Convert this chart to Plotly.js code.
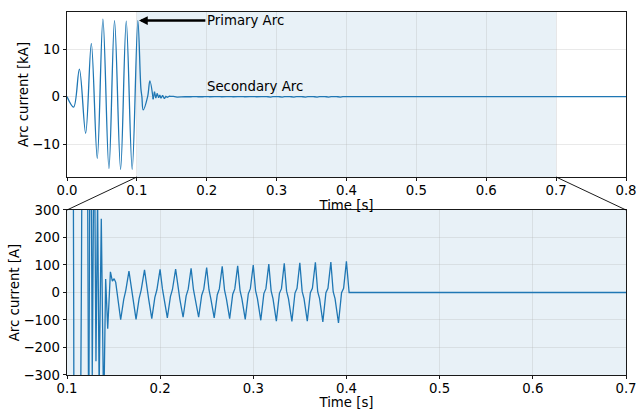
<!DOCTYPE html>
<html>
<head>
<meta charset="utf-8">
<script src="https://cdn.plot.ly/plotly-3.0.1.min.js"></script>
<style>html,body{margin:0;padding:0;background:#fff;}#chart{width:636px;height:410px;}</style>
</head>
<body>
<div id="chart"></div>
<script>
// ---- Data ----
// Primary arc and early transient (time in s, current in kA)
const primaryTime = [0, 0.0095, 0.0177, 0.0267, 0.0348, 0.0433, 0.0514, 0.0600, 0.0680, 0.0767, 0.0848, 0.0933, 0.1014, 0.1057, 0.1072, 0.1090, 0.1154, 0.1186, 0.1233];
const primaryKA   = [0, -2.2, 5.8, -7.7, 11.2, -13.0, 16.3, -15.1, 16.0, -15.3, 15.9, -15.3, 16.0, 1.8, -0.06, -2.8, 0.0, 3.3, -0.55];

// Late transient and secondary arc (time in s, current in A)
const secondaryTime = [
  0.1233, 0.1252, 0.1271, 0.1292, 0.1311, 0.1328, 0.1345, 0.1368, 0.1394, 0.1415, 0.1437, 0.1466, 0.1487, 0.1506, 0.1523,
  0.1576, 0.1609, 0.1631, 0.1665, 0.1690, 0.1710,
  0.1741, 0.1774, 0.1796, 0.1832, 0.1857, 0.1877,
  0.1910, 0.1943, 0.1965, 0.1999, 0.2024, 0.2044,
  0.2077, 0.2110, 0.2132, 0.2166, 0.2191, 0.2211,
  0.2246, 0.2279, 0.2301, 0.2332, 0.2357, 0.2377,
  0.2413, 0.2446, 0.2468, 0.2499, 0.2524, 0.2544,
  0.2580, 0.2613, 0.2635, 0.2666, 0.2691, 0.2711,
  0.2746, 0.2779, 0.2801, 0.2832, 0.2857, 0.2877,
  0.2913, 0.2946, 0.2968, 0.2999, 0.3024, 0.3044,
  0.3080, 0.3113, 0.3135, 0.3166, 0.3191, 0.3211,
  0.3247, 0.3280, 0.3302, 0.3332, 0.3357, 0.3377,
  0.3414, 0.3447, 0.3469, 0.3499, 0.3524, 0.3544,
  0.3579, 0.3612, 0.3634, 0.3666, 0.3691, 0.3711,
  0.3746, 0.3779, 0.3801, 0.3832, 0.3857, 0.3877,
  0.3914, 0.3947, 0.3969, 0.3999, 0.4028, 0.8000
];
const secondaryA = [
  -550, 1050, -300, 700, -250, 350, -350, 268, -450, 49, -132, 75, 41, 50, 37,
  -99, -25, 8, 78, 18, -25,
  -98, -22, 9, 82, 16, -25,
  -95, -18, 10, 84, 14, -24,
  -92, -15, 11, 85, 12, -24,
  -90, -12, 12, 88, 11, -23,
  -90, -10, 12, 91, 10, -23,
  -92, -8, 13, 95, 9, -23,
  -95, -6, 13, 97, 8, -22,
  -98, -5, 14, 100, 7, -22,
  -101, -4, 14, 103, 6, -22,
  -104, -3, 14, 106, 5, -22,
  -105, -2, 15, 108, 4, -22,
  -104, -1, 15, 110, 3, -22,
  -107, -1, 15, 111, 3, -22,
  -111, -1, 15, 113, 0, 0
];

const zoomRange = [0.1, 0.7];
const topXTicks = [0, 0.1, 0.2, 0.3, 0.4, 0.5, 0.6, 0.7, 0.8];
const topYTicks = [-10, 0, 10];
const botXTicks = [0.1, 0.2, 0.3, 0.4, 0.5, 0.6, 0.7];
const botYTicks = [-300, -200, -100, 0, 100, 200, 300];

// unit conversions
const primaryA = primaryKA.map(v => v * 1000);
const secondaryKA = secondaryA.map(v => v / 1000);

const C0 = '#1f77b4';
const lw = 1.3;

const traces = [
  {x: primaryTime, y: primaryKA, xaxis: 'x', yaxis: 'y', mode: 'lines', line: {color: C0, width: lw, shape: 'spline', smoothing: 1}, hoverinfo: 'skip'},
  {x: secondaryTime, y: secondaryKA, xaxis: 'x', yaxis: 'y', mode: 'lines', line: {color: C0, width: lw}, hoverinfo: 'skip'},
  {x: primaryTime, y: primaryA, xaxis: 'x2', yaxis: 'y2', mode: 'lines', line: {color: C0, width: lw, shape: 'spline', smoothing: 1}, hoverinfo: 'skip'},
  {x: secondaryTime, y: secondaryA, xaxis: 'x2', yaxis: 'y2', mode: 'lines', line: {color: C0, width: lw}, hoverinfo: 'skip'}
];

const FS = 13.3;
const fnt = {family: 'DejaVu Sans', size: FS, color: 'black'};
const gridC = 'rgba(176,176,176,0.35)';
const axisCommon = {
  showline: true, linecolor: 'black', linewidth: 0.9, mirror: true,
  ticks: 'outside', ticklen: 3.5, tickwidth: 0.9, tickcolor: 'black',
  showgrid: true, gridcolor: gridC, gridwidth: 0.8, zeroline: false,
  tickfont: fnt, ticklabeloverflow: 'allow'
};

const topBottom = 0.54545, botTop = 0.45455;

const layout = {
  width: 636, height: 410,
  margin: {l: 67, r: 10, t: 12, b: 35},
  paper_bgcolor: 'white', plot_bgcolor: 'white',
  showlegend: false,
  font: fnt,
  xaxis: Object.assign({}, axisCommon, {
    domain: [0, 1], anchor: 'y', range: [0, 0.8], tickvals: topXTicks, tickformat: '.1f',
    ticklabelstandoff: -2,
    title: {text: 'Time [s]', standoff: 0, font: fnt}
  }),
  yaxis: Object.assign({}, axisCommon, {
    domain: [topBottom, 1], anchor: 'x', range: [-16.9, 17.8], tickvals: topYTicks,
    title: {text: 'Arc current [kA]', standoff: 0, font: fnt}
  }),
  xaxis2: Object.assign({}, axisCommon, {
    domain: [0, 1], anchor: 'y2', range: [zoomRange[0] - 1e-7, zoomRange[1] + 1e-7], tickvals: botXTicks, tickformat: '.1f',
    ticklabelstandoff: -2,
    title: {text: 'Time [s]', standoff: 0, font: fnt}
  }),
  yaxis2: Object.assign({}, axisCommon, {
    domain: [0, botTop], anchor: 'x2', range: [-300, 300], tickvals: botYTicks,
    title: {text: 'Arc current [A]', standoff: 0, font: fnt}
  }),
  shapes: [
    {type: 'rect', xref: 'x', yref: 'y domain', x0: zoomRange[0], x1: zoomRange[1], y0: 0, y1: 1,
     fillcolor: 'rgba(31,119,180,0.1)', line: {width: 0}, layer: 'below'},
    {type: 'rect', xref: 'x2 domain', yref: 'y2 domain', x0: 0, x1: 1, y0: 0, y1: 1,
     fillcolor: 'rgba(31,119,180,0.1)', line: {width: 0}, layer: 'below'},
    {type: 'line', xref: 'x', yref: 'paper', x0: zoomRange[0], y0: topBottom, x1: 0, y1: botTop,
     line: {color: 'black', width: 0.9}},
    {type: 'line', xref: 'x', yref: 'paper', x0: zoomRange[1], y0: topBottom, x1: 0.8, y1: botTop,
     line: {color: 'black', width: 0.9}}
  ],
  annotations: [
    {xref: 'x', yref: 'y', x: 0.103, y: 16.0, axref: 'x', ayref: 'y', ax: 0.198, ay: 16.0,
     text: 'Primary Arc', xanchor: 'left', yanchor: 'middle', showarrow: true,
     arrowhead: 2, arrowsize: 0.7, arrowwidth: 2.5, arrowcolor: 'black', standoff: 0,
     font: fnt},
    {xref: 'x', yref: 'y', x: 0.198, y: 2.15, text: 'Secondary Arc', xanchor: 'left', yanchor: 'middle',
     showarrow: false, font: fnt}
  ]
};

Plotly.newPlot('chart', traces, layout, {staticPlot: true, displayModeBar: false});
</script>
</body>
</html>
